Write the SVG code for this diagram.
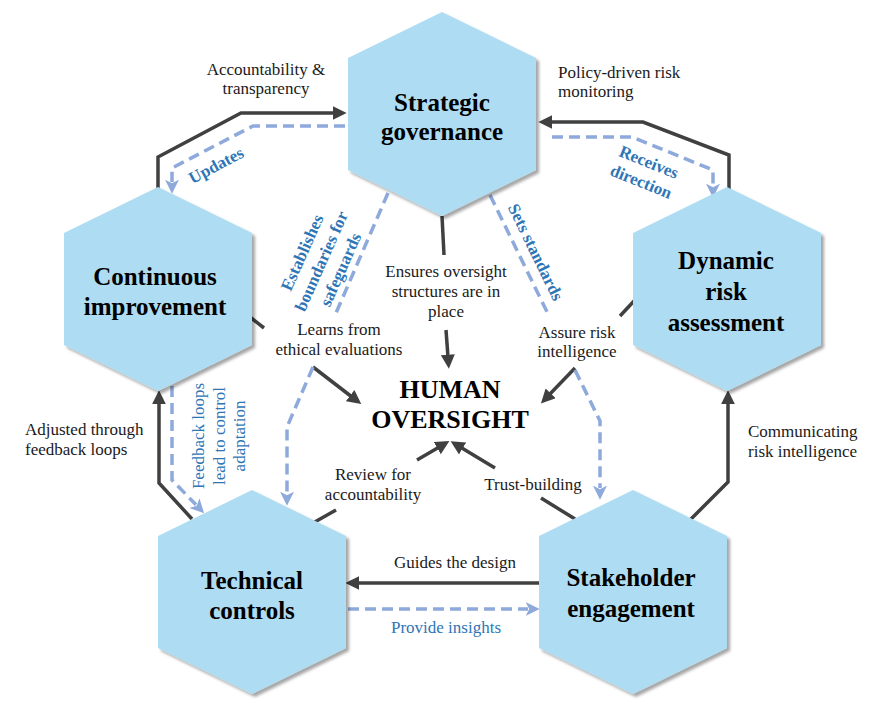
<svg xmlns="http://www.w3.org/2000/svg" width="881" height="708" viewBox="0 0 881 708">
<defs>
<filter id="sh" x="-10%" y="-10%" width="125%" height="125%">
<feDropShadow dx="3" dy="3" stdDeviation="1.6" flood-color="#000" flood-opacity="0.35"/>
</filter>
<marker id="ad" markerUnits="userSpaceOnUse" markerWidth="14" markerHeight="14" viewBox="0 0 12 12" refX="2" refY="6" orient="auto">
<path d="M0,0 L12,6 L0,12 z" fill="#404040"/>
</marker>
<marker id="ab" markerUnits="userSpaceOnUse" markerWidth="14" markerHeight="14" viewBox="0 0 12 12" refX="2" refY="6" orient="auto">
<path d="M0,0 L12,6 L0,12 L3,6 z" fill="#8EA9DB"/>
</marker>
</defs>
<style>
.hex{fill:#AEDCF2;filter:url(#sh)}
.nt{font-family:"Liberation Serif","Times New Roman",serif;font-weight:bold;font-size:25px;fill:#000;text-anchor:middle}
.ho{font-family:"Liberation Serif","Times New Roman",serif;font-weight:bold;font-size:26px;fill:#000;text-anchor:middle}
.dk{fill:none;stroke:#404040;stroke-width:3.5}
.ds{fill:none;stroke:#8EA9DB;stroke-width:3.5;stroke-dasharray:11,6}
.lb{font-family:"Liberation Serif","Times New Roman",serif;font-size:17px;fill:#1a1a1a}
.bl{font-family:"Liberation Serif","Times New Roman",serif;font-size:17px;fill:#2E75B6}
.bb{font-family:"Liberation Serif","Times New Roman",serif;font-size:17px;font-weight:bold;fill:#2E75B6}
.m{text-anchor:middle}
</style>
<rect width="881" height="708" fill="#fff"/>
<g id="connectors">
<path class="dk" d="M158,190 L158,157 L241,113 L335,113" marker-end="url(#ad)"/>
<path class="dk" d="M729,190 L729,155 L643,122 L550,122" marker-end="url(#ad)"/>
<path class="dk" d="M442,216 L444,255"/>
<path class="dk" d="M446,330 L448,357" marker-end="url(#ad)"/>
<path class="dk" d="M250,317 L264,328"/>
<path class="dk" d="M313,367 L352,397" marker-end="url(#ad)"/>
<path class="dk" d="M634,301 L620,316"/>
<path class="dk" d="M575,368 L549,395" marker-end="url(#ad)"/>
<path class="dk" d="M313,523 L336,510"/>
<path class="dk" d="M417,460 L439.3,447" marker-end="url(#ad)"/>
<path class="dk" d="M575,519 L541,498"/>
<path class="dk" d="M495,468 L460.6,447.2" marker-end="url(#ad)"/>
<path class="dk" d="M540,583 L357,583" marker-end="url(#ad)"/>
<path class="dk" d="M192,519 L159,483 L159,402" marker-end="url(#ad)"/>
<path class="dk" d="M691,519 L728,482 L728,402" marker-end="url(#ad)"/>
<path class="ds" d="M345,126 L253,126 L172,168 L172,182" marker-end="url(#ab)"/>
<path class="ds" d="M552,137 L632,137 L713,170 L713,186" marker-end="url(#ab)"/>
<path class="ds" d="M388,193 L336,313"/>
<path class="ds" d="M313,367 L287,427 L287,494" marker-end="url(#ab)"/>
<path class="ds" d="M490,195 L549,316"/>
<path class="ds" d="M575,370 L600,421 L600,488" marker-end="url(#ab)"/>
<path class="ds" d="M172,386 L172,480 L196,504.8" marker-end="url(#ab)"/>
<path class="ds" d="M348,609 L528,609" marker-end="url(#ab)"/>
</g>
<g id="node-strategic">
<polygon class="hex" points="442,12 536,58 536,170 442,216 348,170 348,58"/>
<text class="nt" x="442" y="111">Strategic</text>
<text class="nt" x="442" y="140">governance</text>
</g>
<g id="node-continuous">
<polygon class="hex" points="158,187 252,233 252,345 158,391 64,345 64,233"/>
<text class="nt" x="155" y="285">Continuous</text>
<text class="nt" x="155" y="315">improvement</text>
</g>
<g id="node-dynamic">
<polygon class="hex" points="727,187 821,233 821,345 727,391 633,345 633,233"/>
<text class="nt" x="726" y="269">Dynamic</text>
<text class="nt" x="726" y="300">risk</text>
<text class="nt" x="726" y="331">assessment</text>
</g>
<g id="node-technical">
<polygon class="hex" points="252,490 346,536 346,648 252,694 158,648 158,536"/>
<text class="nt" x="252" y="589">Technical</text>
<text class="nt" x="252" y="619">controls</text>
</g>
<g id="node-stakeholder">
<polygon class="hex" points="633,490 727,536 727,648 633,694 539,648 539,536"/>
<text class="nt" x="631" y="586">Stakeholder</text>
<text class="nt" x="631" y="617">engagement</text>
</g>
<g id="node-human">
<text class="ho" x="450" y="398">HUMAN</text>
<text class="ho" x="450" y="428">OVERSIGHT</text>
</g>
<g id="labels">
<text class="lb m" x="266" y="75">Accountability &amp;</text>
<text class="lb m" x="266" y="94">transparency</text>
<text class="lb" x="558" y="78">Policy-driven risk</text>
<text class="lb" x="558" y="97">monitoring</text>
<text class="bb m" transform="translate(216,165) rotate(-28)" y="6">Updates</text>
<g transform="translate(645,172) rotate(22)">
<text class="bb m" y="-5">Receives</text>
<text class="bb m" y="16">direction</text>
</g>
<g transform="translate(321,261) rotate(-66)">
<text class="bb m" y="-15">Establishes</text>
<text class="bb m" y="6">boundaries for</text>
<text class="bb m" y="27">safeguards</text>
</g>
<text class="bb m" transform="translate(536,252) rotate(64)" y="6">Sets standards</text>
<text class="lb m" x="446" y="277">Ensures oversight</text>
<text class="lb m" x="446" y="297">structures are in</text>
<text class="lb m" x="446" y="317">place</text>
<text class="lb m" x="339" y="335">Learns from</text>
<text class="lb m" x="339" y="355">ethical evaluations</text>
<text class="lb m" x="577" y="338">Assure risk</text>
<text class="lb m" x="577" y="357">intelligence</text>
<text class="lb m" x="373" y="480">Review for</text>
<text class="lb m" x="373" y="500">accountability</text>
<text class="lb m" x="533" y="490">Trust-building</text>
<text class="lb m" x="455" y="568">Guides the design</text>
<text class="bl m" x="446" y="633">Provide insights</text>
<text class="lb" x="25" y="435">Adjusted through</text>
<text class="lb" x="25" y="455">feedback loops</text>
<text class="lb" x="748" y="437">Communicating</text>
<text class="lb" x="748" y="457">risk intelligence</text>
<g transform="translate(204,436) rotate(-90)">
<text class="bl m" y="0">Feedback loops</text>
<text class="bl m" y="20.5">lead to control</text>
<text class="bl m" y="41">adaptation</text>
</g>
</g>
</svg>
